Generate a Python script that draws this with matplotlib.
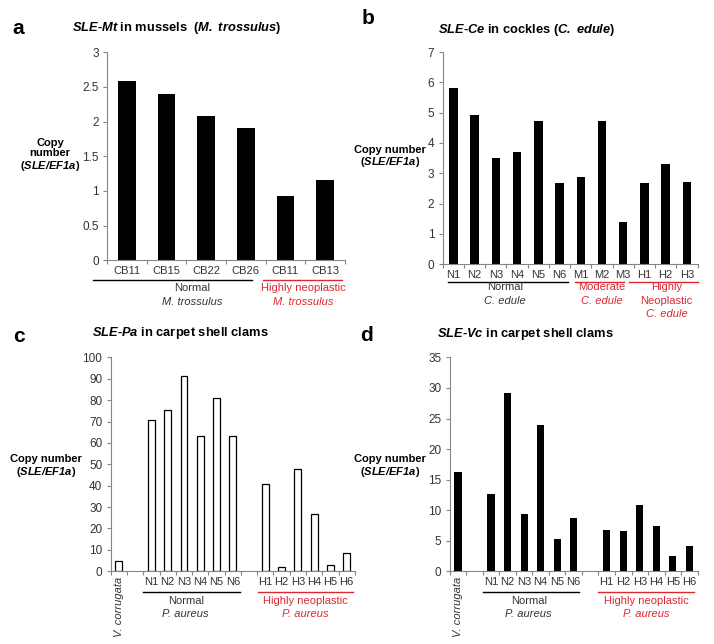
import numpy as np
import matplotlib
matplotlib.use('Agg')
import matplotlib.pyplot as plt
import matplotlib.transforms as mtransforms
from matplotlib.ticker import MultipleLocator, FormatStrFormatter

plt.rcParams['font.family'] = ['Liberation Sans', 'DejaVu Sans']
plt.rcParams['mathtext.fontset'] = 'custom'
plt.rcParams['mathtext.rm'] = 'Liberation Sans'
plt.rcParams['mathtext.it'] = 'Liberation Sans:italic'
plt.rcParams['mathtext.bf'] = 'Liberation Sans:bold'
plt.rcParams['mathtext.bfit'] = 'Liberation Sans:bold:italic'

# data
a_labels = ['CB11', 'CB15', 'CB22', 'CB26', 'CB11', 'CB13']
a_values = [2.58, 2.40, 2.08, 1.91, 0.93, 1.15]

b_labels = ['N1', 'N2', 'N3', 'N4', 'N5', 'N6', 'M1', 'M2', 'M3', 'H1', 'H2', 'H3']
b_values = [5.83, 4.93, 3.49, 3.71, 4.71, 2.67, 2.88, 4.71, 1.40, 2.67, 3.32, 2.70]

# '' = empty slot on the category axis
clam_labels = ['V. corrugata', '', 'N1', 'N2', 'N3', 'N4', 'N5', 'N6', '',
               'H1', 'H2', 'H3', 'H4', 'H5', 'H6']
c_values = [4.8, 70.8, 75.6, 91.1, 63.3, 81.0, 63.3,
            40.9, 1.9, 47.9, 26.6, 2.8, 8.7]
d_values = [16.2, 12.6, 29.1, 9.3, 24.0, 5.2, 8.7,
            6.8, 6.6, 10.9, 7.4, 2.5, 4.1]

RED = '#dc2830'
GREY = '#868686'
TXT = '#333333'

fig = plt.figure(figsize=(7.14, 6.44), dpi=100)


def setup_axis(ax, ncat, ymax, ystep, fmt):
    ax.set_xlim(-0.5, ncat - 0.5)
    ax.set_ylim(0, ymax)
    for s in ['top', 'right']:
        ax.spines[s].set_visible(False)
    for s in ['left', 'bottom']:
        ax.spines[s].set_color(GREY)
        ax.spines[s].set_linewidth(0.8)
    ax.yaxis.set_major_locator(MultipleLocator(ystep))
    ax.yaxis.set_major_formatter(FormatStrFormatter(fmt))
    ax.tick_params(axis='y', direction='out', length=3, width=0.8, color=GREY,
                   labelsize=8.5, labelcolor=TXT, pad=3)
    ax.set_xticks(np.arange(-0.5, ncat), minor=True)
    ax.tick_params(axis='x', which='major', length=0, labelsize=8, labelcolor=TXT, pad=4)
    ax.tick_params(axis='x', which='minor', direction='out', length=3, width=0.8, color=GREY)


def group(ax, x0, x1, yline, color, lines, xtext, ys):
    tr = mtransforms.blended_transform_factory(ax.transData, ax.transAxes)
    ax.plot([x0, x1], [yline, yline], color=color, lw=1, transform=tr, clip_on=False)
    for (txt, style), y in zip(lines, ys):
        ax.text(xtext, y, txt, transform=tr, ha='center', va='center', fontsize=8,
                color=color if color != 'black' else TXT, style=style)


# ---- a
ax = fig.add_axes([0.150, 0.596, 0.333, 0.323])
setup_axis(ax, len(a_labels), 3, 0.5, '%g')
ax.bar(np.arange(len(a_values)), a_values, width=0.45, color='black')
ax.set_xticks(np.arange(len(a_labels)))
ax.set_xticklabels(a_labels)
group(ax, -0.85, 3.15, -0.096, 'black', [('Normal', 'normal'), ('M. trossulus', 'italic')],
      1.65, [-0.135, -0.2])
group(ax, 3.43, 5.42, -0.096, RED, [('Highly neoplastic', 'normal'), ('M. trossulus', 'italic')],
      4.45, [-0.135, -0.2])

# ---- b
ax = fig.add_axes([0.620, 0.590, 0.357, 0.329])
setup_axis(ax, len(b_labels), 7, 1, '%g')
ax.bar(np.arange(len(b_values)), b_values, width=0.4, color='black')
ax.set_xticks(np.arange(len(b_labels)))
ax.set_xticklabels(b_labels)
group(ax, -0.26, 5.38, -0.085, 'black', [('Normal', 'normal'), ('C. edule', 'italic')],
      2.42, [-0.108, -0.175])
group(ax, 5.71, 8.02, -0.085, RED, [('Moderate', 'normal'), ('C. edule', 'italic')],
      6.98, [-0.108, -0.175])
group(ax, 8.25, 11.5, -0.085, RED, [('Highly', 'normal'), ('Neoplastic', 'normal'), ('C. edule', 'italic')],
      10.04, [-0.108, -0.175, -0.236])

# ---- c and d share the clam categories
clam_x = [i for i, lab in enumerate(clam_labels) if lab != '']
clam_ticklabels = [lab for lab in clam_labels if lab != '']

ax = fig.add_axes([0.155, 0.113, 0.342, 0.332])
setup_axis(ax, len(clam_labels), 100, 10, '%g')
ax.bar(clam_x, c_values, width=0.42, color='white', edgecolor='black', linewidth=0.9)
ax.set_xticks(clam_x)
ax.set_xticklabels(clam_ticklabels)
ax.get_xticklabels()[0].set_rotation(90)
ax.get_xticklabels()[0].set_style('italic')
group(ax, 1.47, 7.43, -0.098, 'black', [('Normal', 'normal'), ('P. aureus', 'italic')],
      4.11, [-0.14, -0.2])
group(ax, 8.53, 14.37, -0.098, RED, [('Highly neoplastic', 'normal'), ('P. aureus', 'italic')],
      11.47, [-0.14, -0.2])

ax = fig.add_axes([0.630, 0.113, 0.347, 0.332])
setup_axis(ax, len(clam_labels), 35, 5, '%g')
ax.bar(clam_x, d_values, width=0.44, color='black')
ax.set_xticks(clam_x)
ax.set_xticklabels(clam_ticklabels)
ax.get_xticklabels()[0].set_rotation(90)
ax.get_xticklabels()[0].set_style('italic')
group(ax, 1.5, 7.3, -0.098, 'black', [('Normal', 'normal'), ('P. aureus', 'italic')],
      4.28, [-0.14, -0.2])
group(ax, 8.45, 14.3, -0.098, RED, [('Highly neoplastic', 'normal'), ('P. aureus', 'italic')],
      11.42, [-0.14, -0.2])

# ---- titles, panel letters, y labels
fig.text(0.017, 0.955, 'a', fontsize=15, fontweight='bold', va='center')
fig.text(0.507, 0.972, 'b', fontsize=15, fontweight='bold', va='center')
fig.text(0.018, 0.478, 'c', fontsize=15, fontweight='bold', va='center')
fig.text(0.504, 0.479, 'd', fontsize=15, fontweight='bold', va='center')

fig.text(0.101, 0.957, r'$\mathbfit{SLE}$-$\mathbfit{Mt}$ in mussels  ($\mathbfit{M.\ trossulus}$)',
         fontsize=9.3, fontweight='bold', va='center')
fig.text(0.613, 0.953, r'$\mathbfit{SLE}$-$\mathbfit{Ce}$ in cockles ($\mathbfit{C.\ edule}$)',
         fontsize=9.3, fontweight='bold', va='center')
fig.text(0.129, 0.483, r'$\mathbfit{SLE}$-$\mathbfit{Pa}$ in carpet shell clams',
         fontsize=9.3, fontweight='bold', va='center')
fig.text(0.612, 0.481, r'$\mathbfit{SLE}$-$\mathbfit{Vc}$ in carpet shell clams',
         fontsize=9.3, fontweight='bold', va='center')

ylab = r'($\mathbfit{SLE/EF1a}$)'
fig.text(0.070, 0.759, 'Copy\nnumber\n' + ylab, fontsize=8, fontweight='bold',
         ha='center', va='center', multialignment='center', linespacing=1.05)
fig.text(0.546, 0.756, 'Copy number\n' + ylab, fontsize=8, fontweight='bold',
         ha='center', va='center', multialignment='center', linespacing=1.05)
fig.text(0.064, 0.276, 'Copy number\n' + ylab, fontsize=8, fontweight='bold',
         ha='center', va='center', multialignment='center', linespacing=1.05)
fig.text(0.546, 0.276, 'Copy number\n' + ylab, fontsize=8, fontweight='bold',
         ha='center', va='center', multialignment='center', linespacing=1.05)

fig.savefig('out.png', dpi=100)
